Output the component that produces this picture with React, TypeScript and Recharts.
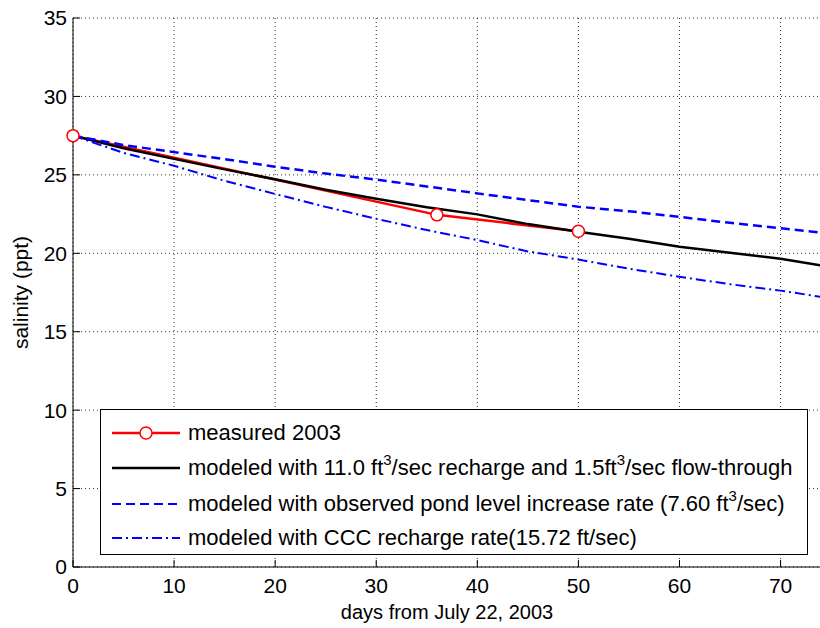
import { LineChart, Line, XAxis, YAxis, CartesianGrid, Legend } from 'recharts';

// days since July 22, 2003
const modelDays = [0, 5, 10, 15, 20, 25, 30, 35, 40, 45, 50, 55, 60, 65, 70, 74];
const modeledRecharge = [27.5, 26.7, 26.02, 25.35, 24.72, 24.05, 23.48, 22.93, 22.48, 21.86, 21.38, 20.92, 20.42, 20.03, 19.65, 19.22];
const modeledPondLevel = [27.5, 26.9, 26.45, 26.0, 25.52, 25.08, 24.7, 24.26, 23.82, 23.39, 22.97, 22.68, 22.32, 21.94, 21.6, 21.32];
const modeledCCC = [27.5, 26.4, 25.58, 24.62, 23.78, 22.96, 22.2, 21.48, 20.84, 20.12, 19.6, 19.02, 18.5, 18.03, 17.62, 17.22];

const measuredDays = [0, 36, 50];
const measuredSalinity = [27.5, 22.45, 21.4];

const xTicks = [0, 10, 20, 30, 40, 50, 60, 70];
const yTicks = [0, 5, 10, 15, 20, 25, 30, 35];

const modelData = modelDays.map((d, i) => ({
  day: d,
  recharge: modeledRecharge[i],
  pond: modeledPondLevel[i],
  ccc: modeledCCC[i],
}));
const measuredData = measuredDays.map((d, i) => ({ day: d, salinity: measuredSalinity[i] }));

const FONT = '"Liberation Sans", Arial, Helvetica, sans-serif';

const Sup = () => (
  <span style={{ fontSize: 15, position: 'relative', top: -10 }}>3</span>
);

function LegendBox() {
  const rows = [
    {
      key: 'm',
      sample: (
        <>
          <line x1={0} y1={10} x2={68} y2={10} stroke="#ff0000" strokeWidth={2.5} />
          <circle cx={34} cy={10} r={6} fill="#fff" stroke="#ff0000" strokeWidth={1.5} />
        </>
      ),
      text: <>measured 2003</>,
    },
    {
      key: 'r',
      sample: <line x1={0} y1={10} x2={68} y2={10} stroke="#000" strokeWidth={2.5} />,
      text: (
        <>
          modeled with 11.0 ft<Sup />/sec recharge and 1.5ft<Sup />/sec flow-through
        </>
      ),
    },
    {
      key: 'p',
      sample: <line x1={0} y1={10} x2={68} y2={10} stroke="#0000ff" strokeWidth={2} strokeDasharray="9 5" />,
      text: (
        <>
          modeled with observed pond level increase rate (7.60 ft<Sup />/sec)
        </>
      ),
    },
    {
      key: 'c',
      sample: <line x1={0} y1={10} x2={68} y2={10} stroke="#0000ff" strokeWidth={2} strokeDasharray="10 4 2 4" />,
      text: <>modeled with CCC recharge rate(15.72 ft/sec)</>,
    },
  ];
  const centers = [23, 58, 94, 128];
  return (
    <div
      style={{
        position: 'relative',
        width: 708,
        height: 146,
        boxSizing: 'border-box',
        border: '1px solid #000',
        background: '#fff',
        fontFamily: FONT,
        fontSize: 22,
        color: '#000',
      }}
    >
      {rows.map((r, i) => (
        <div
          key={r.key}
          style={{
            position: 'absolute',
            left: 11,
            top: centers[i] - 17,
            height: 34,
            display: 'flex',
            alignItems: 'center',
            whiteSpace: 'nowrap',
          }}
        >
          <svg width={68} height={20} style={{ marginRight: 8 }}>
            {r.sample}
          </svg>
          <span>{r.text}</span>
        </div>
      ))}
    </div>
  );
}

export default function App() {
  return (
    <div
      style={{
        position: 'absolute',
        left: 0,
        top: 0,
        width: 820,
        height: 628,
        overflow: 'hidden',
        background: '#fff',
        fontFamily: FONT,
      }}
    >
      <LineChart width={821} height={628} margin={{ top: 18, right: 0, left: 0, bottom: 0 }}>
        <CartesianGrid stroke="#333" strokeDasharray="1 3" xAxisId={0} yAxisId={0} />
        <XAxis
          dataKey="day"
          type="number"
          domain={[0, 74]}
          ticks={xTicks}
          allowDuplicatedCategory={false}
          height={61}
          stroke="#000"
          tickSize={-7}
          tickMargin={18}
          tick={{ fill: '#000', fontSize: 21, fontFamily: FONT }}
          label={{
            value: 'days from July 22, 2003',
            position: 'insideBottom',
            offset: 9,
            style: { fill: '#000', fontSize: 20, fontFamily: FONT },
          }}
        />
        <XAxis
          xAxisId="top"
          orientation="top"
          mirror
          type="number"
          domain={[0, 74]}
          ticks={xTicks}
          height={0}
          stroke="#000"
          tickSize={7}
          tick={false}
        />
        <YAxis
          type="number"
          domain={[0, 35]}
          ticks={yTicks}
          width={73}
          stroke="#000"
          tickSize={-7}
          tickMargin={13}
          tick={{ fill: '#000', fontSize: 21, fontFamily: FONT }}
          label={{
            value: 'salinity (ppt)',
            angle: -90,
            position: 'insideLeft',
            offset: 21,
            style: { textAnchor: 'middle', fill: '#000', fontSize: 21, fontFamily: FONT },
          }}
        />
        <Legend
          layout="vertical"
          align="center"
          verticalAlign="middle"
          wrapperStyle={{ left: 100, top: 409, width: 708, height: 146 }}
          content={() => <LegendBox />}
        />
        <Line
          data={measuredData}
          dataKey="salinity"
          type="linear"
          stroke="#ff0000"
          strokeWidth={2.5}
          dot={{ r: 6, fill: '#fff', stroke: '#ff0000', strokeWidth: 1.5 }}
          activeDot={false}
          isAnimationActive={false}
        />
        <Line
          data={modelData}
          dataKey="recharge"
          type="linear"
          stroke="#000"
          strokeWidth={2.5}
          dot={false}
          activeDot={false}
          isAnimationActive={false}
        />
        <Line
          data={modelData}
          dataKey="pond"
          type="linear"
          stroke="#0000ff"
          strokeWidth={2.5}
          strokeDasharray="9 5"
          dot={false}
          activeDot={false}
          isAnimationActive={false}
        />
        <Line
          data={modelData}
          dataKey="ccc"
          type="linear"
          stroke="#0000ff"
          strokeWidth={2}
          strokeDasharray="10 4 2 4"
          dot={false}
          activeDot={false}
          isAnimationActive={false}
        />
      </LineChart>
    </div>
  );
}
